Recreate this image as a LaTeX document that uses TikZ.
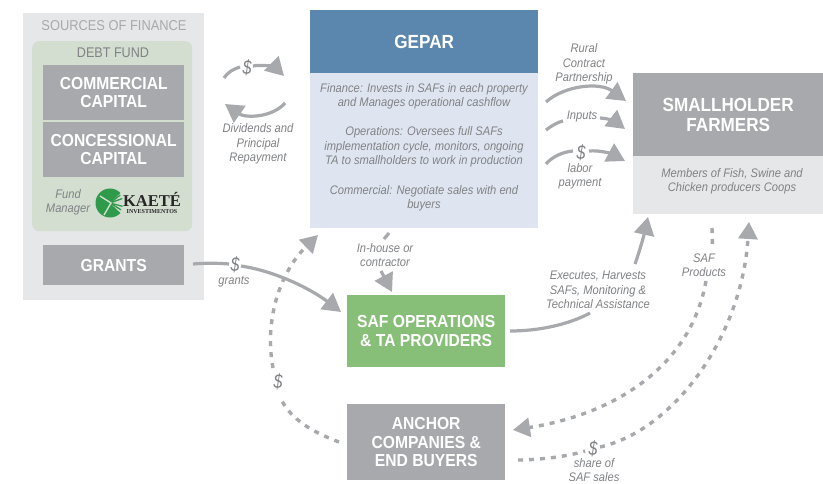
\documentclass[tikz,border=0pt]{standalone}
\usepackage{fontspec}
\setmainfont{Liberation Sans}
\newfontfamily\nar[FakeStretch=0.9]{Liberation Sans}
\newfontfamily\narr[FakeStretch=0.8]{Liberation Sans}
\usetikzlibrary{arrows.meta,calc}
\definecolor{gb}{HTML}{A7A9AC}
\definecolor{txt}{HTML}{808285}
\definecolor{pale}{HTML}{E6E7E8}
\definecolor{sage}{HTML}{D3DDD0}
\definecolor{blu}{HTML}{5B86AE}
\definecolor{palebl}{HTML}{DFE5F0}
\definecolor{grn}{HTML}{88BF78}
\definecolor{kg}{HTML}{2E9A4A}
\tikzset{
 x=1pt,y=-1pt,
 boxn/.style={fill=gb,text=white,font=\nar\bfseries\fontsize{17.4}{18.5}\selectfont,align=center,inner sep=0pt,anchor=north west},
 lab/.style={text=txt,font=\nar\itshape\fontsize{12.4}{14.4}\selectfont,align=center,inner sep=1pt},
 dol/.style={text=txt,font=\narr\itshape\fontsize{20}{20}\selectfont,inner sep=0pt},
 conn/.style={draw=gb,line width=3.2pt,-{Triangle[length=18pt,width=20pt]}},
 plain/.style={draw=gb,line width=3.2pt},
 dots/.style={draw=gb,line width=3.4pt,dash pattern=on 5pt off 6pt,-{Triangle[length=17pt,width=19pt]}},
 dotsp/.style={draw=gb,line width=3.4pt,dash pattern=on 5pt off 6pt},
}
\begin{document}
\begin{tikzpicture}
\useasboundingbox (0,0) rectangle (823,484);
\fill[white] (0,0) rectangle (823,484);
% panels
\node[fill=pale,inner sep=0pt,minimum width=181pt,minimum height=287pt,anchor=north west] (src) at (23,13) {};
\node[text=gb,font=\nar\fontsize{14.3}{16}\selectfont,inner sep=0pt] (srct) at (114,26) {SOURCES OF FINANCE};
\node[fill=sage,rounded corners=7pt,inner sep=0pt,minimum width=160pt,minimum height=190pt,anchor=north west] (debt) at (32,41) {};
\node[text=txt,font=\nar\fontsize{14}{16}\selectfont,inner sep=0pt] (debtt) at (113,53) {DEBT FUND};
\node[boxn,minimum width=141pt,minimum height=55pt] (cc) at (43,65) {COMMERCIAL\\CAPITAL};
\node[boxn,minimum width=141pt,minimum height=55pt] (con) at (43,122) {CONCESSIONAL\\CAPITAL};
\node[boxn,minimum width=141pt,minimum height=40pt] (gr) at (43,245) {GRANTS};
\node[lab,anchor=center] (fm) at (68,202) {Fund\\Manager};
% logo
\fill[kg] (110,203) circle (14.5pt);
\fill[sage] (110,203) -- (127,187) -- (127,219) -- cycle;
\foreach \a in {-38,-20,15,32}{\draw[kg,line width=1.3pt] (110,203) -- ++(\a:13);}
\draw[sage,line width=1.4pt] (100,196) -- (111,203) -- (104,215);
\node[text=black!85,font=\fontspec{Liberation Serif}\bfseries\fontsize{16.5}{16}\selectfont,inner sep=0pt] (kt) at (152,199) {KAETÉ};
\node[text=black!85,font=\fontspec{Liberation Serif}\bfseries\fontsize{6}{6}\selectfont,inner sep=0pt] (inv) at (152,212) {INVESTIMENTOS};
% GEPAR
\node[boxn,fill=blu,minimum width=228pt,minimum height=63pt,font=\nar\bfseries\fontsize{19}{20}\selectfont] (gepar) at (310,10) {GEPAR};
\node[fill=palebl,inner sep=0pt,minimum width=228pt,minimum height=155pt,anchor=north west] (gd) at (310,73) {};
\node[lab] (g1) at (424,96.5) {Finance: Invests in SAFs in each property\\and Manages operational cashflow};
\node[lab] (g2) at (424,147) {Operations: Oversees full SAFs\\implementation cycle, monitors, ongoing\\TA to smallholders to work in production};
\node[lab] (g3) at (424,198.5) {Commercial: Negotiate sales with end\\buyers};
% smallholder
\node[boxn,minimum width=190pt,minimum height=83pt,font=\nar\bfseries\fontsize{19}{20}\selectfont] (sh) at (633,73) {SMALLHOLDER\\FARMERS};
\node[fill=pale,inner sep=0pt,minimum width=190pt,minimum height=58pt,anchor=north west] (shd) at (633,156) {};
\node[lab] (shl) at (732,181) {Members of Fish, Swine and\\Chicken producers Coops};
% saf
\node[boxn,fill=grn,minimum width=158pt,minimum height=72pt] (saf) at (347,295) {SAF OPERATIONS\\\& TA PROVIDERS};
\node[boxn,minimum width=158pt,minimum height=76pt] (anc) at (347,404) {ANCHOR\\COMPANIES \&\\END BUYERS};
% coordinates
\coordinate (a1) at (224,78); \coordinate (a1e) at (284,76);
\coordinate (a2) at (285,103); \coordinate (a2e) at (225,104);
\coordinate (r1) at (546,102); \coordinate (r1e) at (626,101);
\coordinate (r2) at (546,130); \coordinate (r2e) at (625,129);
\coordinate (r3) at (546,164); \coordinate (r3e) at (625,161);
\coordinate (gs) at (193,264); \coordinate (ge) at (341,312);
\coordinate (ih) at (389,233); \coordinate (ie) at (392,292);
\coordinate (ex) at (510,331);
\coordinate (exe) at (648,217);
\coordinate (sa) at (712,228); \coordinate (sae) at (513,430);
\coordinate (sh2) at (518,460); \coordinate (sh2e) at (749,222);
\coordinate (d1) at (339,442); \coordinate (d1e) at (318,235);
% $ loop
\draw[plain] (a1) .. controls (229,71) and (234,69) .. (240,67);
\draw[conn] (253,66) .. controls (265,64) and (276,68) .. (a1e);
\node[dol] (d0) at (247,68) {\$};
\draw[conn] (a2) .. controls (272,118) and (245,118) .. (a2e);
\node[lab] (divs) at (258,144) {Dividends and\\Principal\\Repayment};
% right arrows
\node[lab] (rural) at (584,64) {Rural\\Contract\\Partnership};
\draw[conn] (r1) .. controls (565,85) and (600,82) .. (r1e);
\draw[plain] (r2) .. controls (551,126) and (558,122) .. (563,121);
\node[lab] (inp) at (582,117) {Inputs};
\draw[conn] (600,118) .. controls (607,118) and (616,122) .. (r2e);
\draw[plain] (r3) .. controls (552,157) and (562,152) .. (573,151);
\node[dol] (d3) at (581,153) {\$};
\draw[conn] (589,151) .. controls (600,150) and (612,154) .. (r3e);
\node[lab] (lp) at (580,176) {labor\\payment};
% grants
\draw[plain] (gs) .. controls (204,263) and (217,263) .. (229,264);
\node[dol] (d4) at (235,265) {\$};
\node[lab] (gl) at (234,282) {grants};
\draw[conn] (241,266) .. controls (280,272) and (315,292) .. (ge);
% in-house
\draw[plain] (ih) -- ++(-5,6);
\node[lab] (inh) at (385,255) {In-house or\\contractor};
\draw[conn] (381,271) -- (ie);
% executes
\draw[plain] (ex) .. controls (540,331) and (570,324) .. (590,313);
\node[lab] (ext) at (598,290) {Executes, Harvests\\SAFs, Monitoring \&\\Technical Assistance};
\draw[conn] (635,264) .. controls (640,250) and (644,235) .. (exe);
% saf products
\draw[dotsp] (sa) .. controls (712,235) and (713,240) .. (712,246);
\node[lab] (sp) at (704,265.5) {SAF\\Products};
\draw[dots] (706,281) .. controls (690,370) and (610,415) .. (sae);
% share
\draw[dotsp] (sh2) .. controls (540,460) and (570,456) .. (585,451);
\node[dol] (d5) at (593,449) {\$};
\node[lab] (shr) at (594,470) {share of\\SAF sales};
\draw[dots] (600,447) .. controls (675,430) and (742,335) .. (sh2e);
% $ left
\draw[dotsp] (d1) .. controls (315,433) and (290,420) .. (280,397);
\node[dol] (d6) at (278,382) {\$};
\draw[dots] (273,368) .. controls (264,320) and (280,272) .. (d1e);
\end{tikzpicture}
\end{document}
